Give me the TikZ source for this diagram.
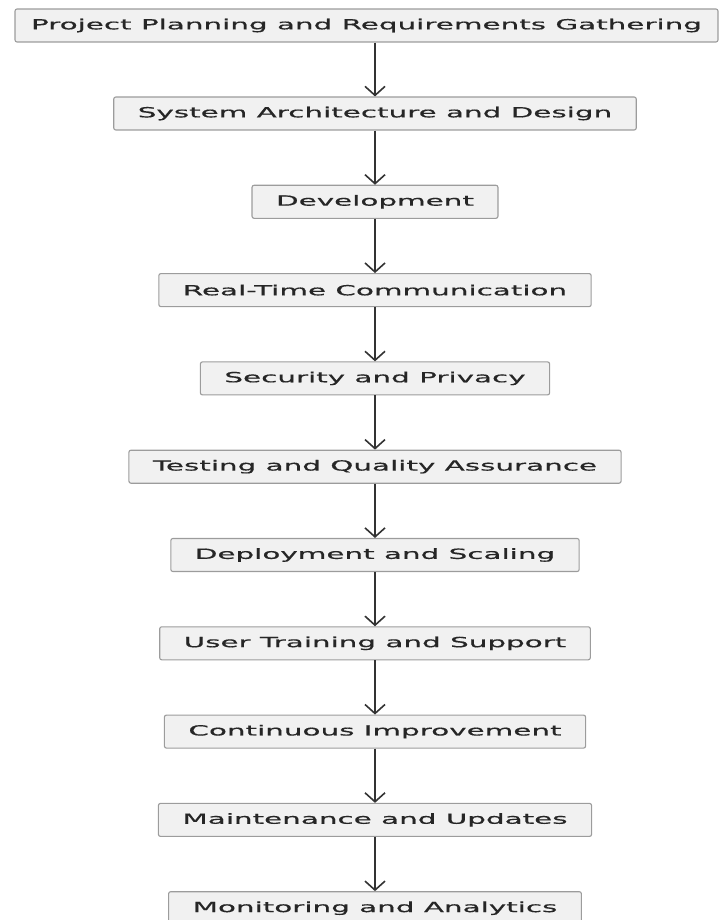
\documentclass[tikz,border=0pt]{standalone}
\usepackage{fontspec}
\setmainfont{DejaVu Sans}[FakeStretch=2.1,FakeBold=0.6]
\usetikzlibrary{arrows.meta}

\definecolor{boxfill}{HTML}{F1F1F1}
\definecolor{boxline}{HTML}{9C9C9C}
\definecolor{flowline}{HTML}{333333}

\begin{document}
\begin{tikzpicture}[x=1pt,y=1pt,->,>={Straight Barb[length=9pt,width=20pt]},
  node distance=88.3pt,
  stage/.style={draw=boxline,fill=boxfill,line width=1.1pt,rounded corners=2pt,
    minimum height=33pt,inner xsep=24pt,text=black!85,font=\fontsize{14}{17}\selectfont},
  flow/.style={draw=flowline,line width=1.6pt}]

\useasboundingbox (0,0) rectangle (724,-920);

\node[stage,inner xsep=16pt] (p_1) at (366.5,-25.5) {Project Planning and Requirements Gathering};
\node[stage] (p_2) at (375,-113.5) {System Architecture and Design};
\node[stage] (p_3) [below of=p_2] {Development};
\node[stage] (p_4) [below of=p_3] {Real-Time Communication};
\node[stage] (p_5) [below of=p_4] {Security and Privacy};
\node[stage] (p_6) [below of=p_5] {Testing and Quality Assurance};
\node[stage] (p_7) [below of=p_6] {Deployment and Scaling};
\node[stage] (p_8) [below of=p_7] {User Training and Support};
\node[stage] (p_9) [below of=p_8] {Continuous Improvement};
\node[stage] (p_10) [below of=p_9] {Maintenance and Updates};
\node[stage] (p_11) [below of=p_10] {Monitoring and Analytics};

\draw[flow] (p_2 |- p_1.south) -- (p_2);
\foreach \i [evaluate=\i as \j using int(\i+1)] in {2,...,10}
  \draw[flow] (p_\i) -- (p_\j);

\end{tikzpicture}
\end{document}
